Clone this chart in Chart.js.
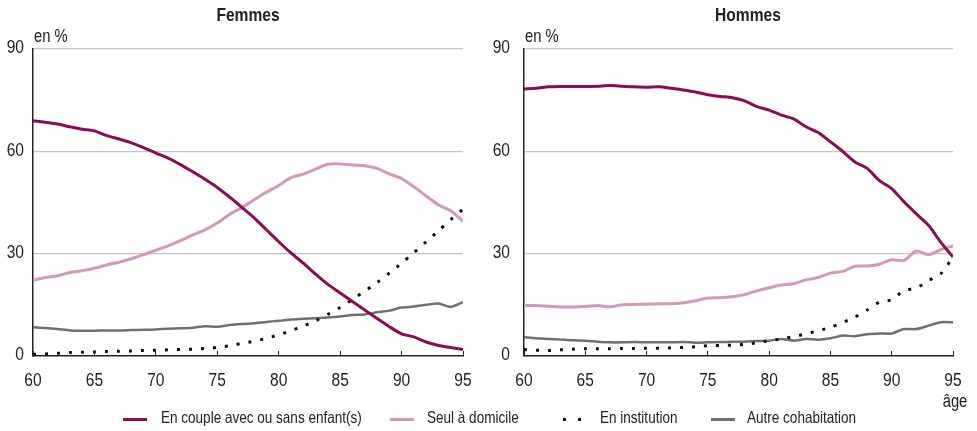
<!DOCTYPE html>
<html><head><meta charset="utf-8">
<script src="https://cdn.jsdelivr.net/npm/chart.js@4.4.1/dist/chart.umd.min.js"></script>
<style>
html,body{margin:0;padding:0;background:#fff;width:977px;height:431px;overflow:hidden;}
#wrapL{position:absolute;left:0;top:0;width:490px;height:431px;}
#wrapR{position:absolute;left:490px;top:0;width:487px;height:431px;}
#legend{position:absolute;left:0;top:407px;width:977px;height:22px;font-family:"Liberation Sans Narrow","Liberation Sans",Arial,sans-serif;font-size:16.5px;color:#222;}
.li{position:absolute;top:1px;white-space:nowrap;transform:scaleX(0.82);transform-origin:0 50%;}
.sw{position:absolute;top:11px;height:3px;}
</style></head><body>
<div id="wrapL"><canvas id="cL"></canvas></div>
<div id="wrapR"><canvas id="cR"></canvas></div>
<div id="legend">
  <div class="sw" style="left:123px;width:24px;background:#8a0b56;"></div>
  <div class="li" style="left:161px;">En couple avec ou sans enfant(s)</div>
  <div class="sw" style="left:390px;width:24px;background:#d498bb;"></div>
  <div class="li" style="left:427px;">Seul à domicile</div>
  <div class="sw" style="left:563px;width:3px;height:3px;background:#111;"></div>
  <div class="sw" style="left:578px;width:3px;height:3px;background:#111;"></div>
  <div class="li" style="left:600px;">En institution</div>
  <div class="sw" style="left:711px;width:24px;background:#707070;"></div>
  <div class="li" style="left:747px;">Autre cohabitation</div>
</div>
<script>
const ages = [60,61,62,63,64,65,66,67,68,69,70,71,72,73,74,75,76,77,78,79,80,81,82,83,84,85,86,87,88,89,90,91,92,93,94,95];
const xTicks = [60,65,70,75,80,85,90,95];
const yTicks = [0,30,60,90];

const femmesCouple = [69,68.5,68,67.2,66.5,66,64.6,63.6,62.5,61.1,59.5,58,56.1,54,51.8,49.4,46.6,43.6,40.5,37,33.5,30.2,27.2,24,21,18.5,16,13.5,11,8.6,6.5,5.6,4.1,3.1,2.5,1.9];
const femmesSeul = [22.2,23,23.5,24.5,25,25.7,26.7,27.5,28.5,29.7,31,32.3,33.8,35.5,37,39,41.5,43.5,45.8,48,50,52.3,53.3,54.8,56.2,56.3,56,55.8,55,53.4,52,49.6,46.9,44.3,42.6,39.5];
const femmesInstitution = [0.5,0.6,0.8,1,1.1,1.2,1.3,1.4,1.5,1.6,1.7,1.8,1.9,2,2.2,2.5,3,3.7,4.3,5.2,6.2,7.4,8.8,10.3,12.2,14.2,16.6,19,21.5,24.3,27.2,30.3,33.5,36.7,40,43];
const femmesAutre = [8.4,8.2,7.9,7.5,7.4,7.4,7.5,7.5,7.6,7.7,7.8,8,8.1,8.3,8.7,8.6,9.1,9.4,9.6,10,10.3,10.7,10.9,11.1,11.3,11.6,12,12.2,12.8,13.3,14.2,14.5,15,15.4,14.4,15.8];

const hommesCouple = [78.3,78.5,78.9,79,79,79,79.1,79.3,79.1,78.9,78.8,78.9,78.5,78,77.4,76.6,76.1,75.7,74.8,73.1,72.1,70.6,69.5,67.2,65.5,62.8,60,56.9,55,51.4,49.1,45.2,41.7,38.3,33.4,29];
const hommesSeul = [14.8,14.8,14.6,14.4,14.4,14.5,14.8,14.4,15,15.1,15.2,15.3,15.3,15.6,16.2,17,17.1,17.4,18,19.1,20,20.8,21.2,22.3,23,24.3,24.8,26.3,26.4,26.9,28.2,28,30.8,29.7,31.2,32.3];
const hommesInstitution = [1.9,1.7,1.6,1.8,2,2.1,2.1,2.1,2.2,2.2,2.3,2.3,2.4,2.5,2.7,3,3.1,3.2,3.4,3.9,4.5,5,5.7,6.5,7.4,8.4,9.8,11.4,13.5,15.8,16.5,19.2,19.9,22.1,24.1,29];
const hommesAutre = [5.5,5.2,5,4.8,4.6,4.5,4.2,4,4,4.1,4,4,4,4.1,3.9,4,4.1,4.2,4.2,4.4,4.5,5,4.5,5,4.8,5.2,6,5.8,6.4,6.6,6.6,7.9,7.9,8.9,9.9,9.9];

const FONT = '"Liberation Sans Narrow","Liberation Sans",Arial,sans-serif';
const TXT = '#222';
const NARROW = 0.82;

function pts(arr){ return ages.map((a,i)=>({x:a,y:arr[i]})); }

function narrowText(ctx, t, x, y){
  ctx.save(); ctx.translate(x, y); ctx.scale(NARROW, 1); ctx.fillText(t, 0, 0); ctx.restore();
}

function makeChart(id, cfg){
  const textPlugin = {
    id:'txt',
    afterDraw(chart){
      const ctx = chart.ctx, ca = chart.chartArea;
      const xs = chart.scales.x, ys = chart.scales.y;
      ctx.save();
      ctx.fillStyle = TXT;
      ctx.textBaseline = 'middle';
      // titles
      ctx.font = 'bold 19px ' + FONT;
      ctx.textAlign = 'center';
      narrowText(ctx, cfg.title, cfg.titleX, 16);
      ctx.font = '18px ' + FONT;
      ctx.textAlign = 'left';
      narrowText(ctx, 'en %', ca.left + 1, 37);
      if (cfg.age) { ctx.textAlign = 'center'; narrowText(ctx, 'âge', ca.right + 2, 402); }
      // tick labels
      ctx.font = '19px ' + FONT;
      ctx.textAlign = 'center';
      xTicks.forEach(v => narrowText(ctx, String(v), xs.getPixelForValue(v), 381));
      ctx.textAlign = 'right';
      yTicks.forEach(v => narrowText(ctx, String(v), ca.left - cfg.yPad, ys.getPixelForValue(v) - 1));
      ctx.restore();
    }
  };
  return new Chart(document.getElementById(id), {
    type:'line',
    data:{ datasets:[
      {data:pts(cfg.couple), borderColor:'#8a0b56', borderWidth:3, tension:0.25},
      {data:pts(cfg.seul), borderColor:'#d498bb', borderWidth:3, tension:0.25},
      {data:pts(cfg.inst), borderColor:'#111', borderWidth:3, borderDash:[3,9], borderCapStyle:'butt', tension:0.25},
      {data:pts(cfg.autre), borderColor:'#707070', borderWidth:2.5, tension:0.25}
    ]},
    options:{
      responsive:true, maintainAspectRatio:false, animation:false,
      devicePixelRatio:1,
      elements:{point:{radius:0}},
      layout:{padding:{left:0, right:cfg.padRight, top:49, bottom:0}},
      plugins:{legend:{display:false}, tooltip:{enabled:false}, title:{display:false}},
      scales:{
        x:{type:'linear', min:60, max:95,
          afterBuildTicks:s=>{ s.ticks = xTicks.map(v=>({value:v})); },
          afterFit:s=>{ s.height = 431 - 356; },
          grid:{drawOnChartArea:false, drawTicks:true, tickLength:-5, color:'#222', lineWidth:1},
          border:{display:true, color:'#222', width:1.5},
          ticks:{display:false}
        },
        y:{min:0, max:90,
          afterBuildTicks:s=>{ s.ticks = yTicks.map(v=>({value:v})); },
          afterFit:s=>{ s.width = cfg.yWidth; },
          grid:{drawTicks:false, color:c=> c.tick && c.tick.value===0 ? 'rgba(0,0,0,0)' : '#c4c4c4', lineWidth:1.2},
          border:{display:true, color:'#222', width:1.5},
          ticks:{display:false}
        }
      }
    },
    plugins:[textPlugin]
  });
}

makeChart('cL', {title:'Femmes', titleX:248, couple:femmesCouple, seul:femmesSeul, inst:femmesInstitution, autre:femmesAutre, padRight:27, yWidth:33, yPad:9, age:false});
makeChart('cR', {title:'Hommes', titleX:258, couple:hommesCouple, seul:hommesSeul, inst:hommesInstitution, autre:hommesAutre, padRight:24, yWidth:34, yPad:14, age:true});
</script>
</body></html>
